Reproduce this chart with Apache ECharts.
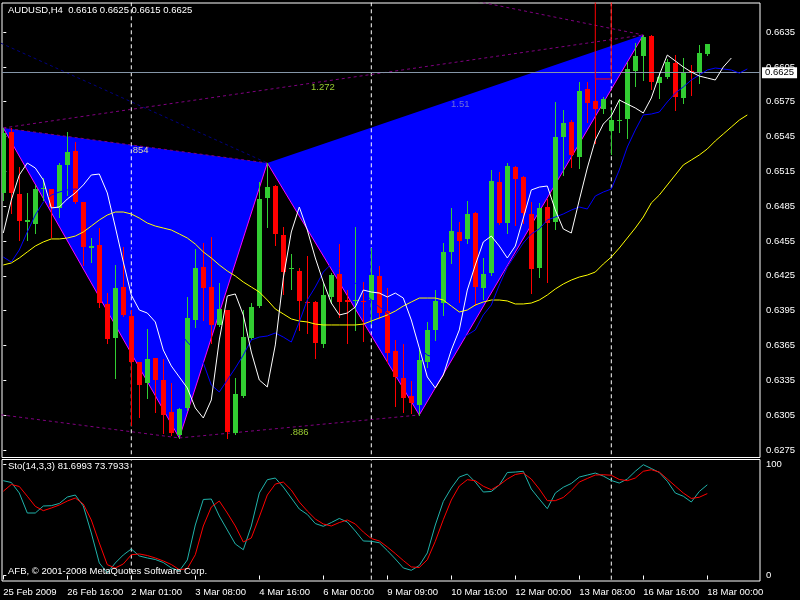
<!DOCTYPE html>
<html><head><meta charset="utf-8">
<script src="https://cdn.jsdelivr.net/npm/echarts@6/dist/echarts.min.js"></script>
<style>html,body{margin:0;padding:0;background:#000;}#c{width:800px;height:600px;}</style>
</head><body><div id="c"></div>
<script>
// ---------- DATA ----------
const headerText = 'AUDUSD,H4  0.6616 0.6625 0.6615 0.6625';
const stochText = 'Sto(14,3,3) 81.6993 73.7933';
const copyrightText = 'AFB, \u00a9 2001-2008 MetaQuotes Software Corp.';

const opens = [0.64964,0.65489,0.64955,0.64718,0.64697,0.65002,0.64998,0.64835,0.65205,0.65325,
0.64886,0.64494,0.64516,0.64008,0.63715,0.64154,0.63904,0.63508,0.63327,0.63543,
0.63353,0.63077,0.62879,0.63112,0.63870,0.64326,0.64154,0.63827,0.63956,0.62897,
0.63215,0.63715,0.63990,0.64921,0.65024,0.64602,0.64305,0.64292,0.64025,0.64025,
0.63663,0.64068,0.64266,0.64038,0.64034,0.64034,0.64042,0.64249,0.63947,0.63603,
0.63370,0.63215,0.63138,0.63508,0.63784,0.64016,0.64456,0.64628,0.64568,0.64792,
0.64145,0.64275,0.65058,0.64705,0.65188,0.65102,0.64783,0.64318,0.64843,0.64714,
0.65446,0.65575,0.65274,0.65860,0.65756,0.65687,0.65498,0.65584,0.65601,0.66015,
0.66144,0.66316,0.65911,0.65963,0.66083,0.65782,0.66015,0.65997,0.6616];
const highs = [0.65524,0.65524,0.65188,0.64964,0.65033,0.65093,0.64998,0.65222,0.65489,0.65403,
0.64886,0.64576,0.64662,0.64102,0.64344,0.64499,0.63956,0.63508,0.63792,0.63543,
0.63534,0.63327,0.63112,0.64068,0.64481,0.64533,0.64585,0.64189,0.63956,0.63370,
0.63956,0.64016,0.65058,0.65222,0.65032,0.64671,0.64438,0.64318,0.64421,0.64034,
0.64189,0.64275,0.64524,0.64128,0.64671,0.64197,0.64490,0.64335,0.64145,0.63698,
0.63663,0.63344,0.63611,0.63853,0.64128,0.64533,0.64835,0.64714,0.64895,0.64800,
0.64404,0.65162,0.65145,0.65222,0.65196,0.65110,0.64886,0.64878,0.64912,0.65748,
0.65679,0.65592,0.65920,0.65920,0.65946,0.65791,0.65679,0.65773,0.66092,0.66256,
0.66325,0.66325,0.65997,0.66118,0.66152,0.66126,0.66066,0.66238,0.6625];
const lows = [0.64903,0.64792,0.64559,0.64559,0.64619,0.64903,0.64585,0.64757,0.64946,0.64877,
0.64344,0.64369,0.63982,0.63672,0.63370,0.63904,0.62965,0.63034,0.63198,0.63077,
0.62897,0.62879,0.62854,0.63095,0.63810,0.63870,0.63672,0.63818,0.62854,0.62888,
0.63206,0.63706,0.63982,0.64671,0.64516,0.64094,0.64137,0.63784,0.63758,0.63543,
0.63637,0.64016,0.63896,0.63672,0.63784,0.63689,0.63844,0.63887,0.63508,0.63129,
0.63077,0.63069,0.63052,0.63465,0.63698,0.63913,0.64361,0.64025,0.64533,0.63999,
0.64051,0.64257,0.64697,0.64619,0.64688,0.64705,0.64102,0.64240,0.64197,0.64654,
0.65119,0.65188,0.65179,0.65575,0.65394,0.65653,0.65300,0.65489,0.65437,0.65885,
0.65937,0.65860,0.65782,0.65954,0.65679,0.65739,0.65808,0.65911,0.6615];
const closes = [0.65481,0.64964,0.64723,0.64727,0.64998,0.65011,0.64843,0.65205,0.65317,0.64886,
0.64499,0.64503,0.64016,0.63706,0.64145,0.63913,0.63508,0.63310,0.63534,0.63353,
0.63052,0.62897,0.63103,0.63887,0.64318,0.64145,0.63827,0.63965,0.62905,0.63232,
0.63723,0.63982,0.64912,0.65015,0.64611,0.64283,0.64314,0.64034,0.64016,0.63672,
0.64085,0.64257,0.64025,0.64029,0.64042,0.64025,0.64257,0.63930,0.63586,0.63379,
0.63198,0.63155,0.63525,0.63784,0.64034,0.64456,0.64636,0.64550,0.64783,0.64154,
0.64266,0.65067,0.64705,0.65196,0.65084,0.64792,0.64309,0.64835,0.64705,0.65446,
0.65567,0.65291,0.65842,0.65739,0.65687,0.65773,0.65592,0.65592,0.66032,0.66144,
0.66307,0.65920,0.65963,0.66092,0.65791,0.66006,0.66006,0.66170,0.6625];

const whiteMA = [0.64619,0.64903,0.65119,0.65222,0.65179,0.65076,0.64835,0.64843,0.64912,0.64964,
0.65033,0.65119,0.65127,0.64964,0.64671,0.64369,0.64085,0.63956,0.63930,0.63853,
0.63611,0.63474,0.63379,0.63284,0.63112,0.63026,0.63181,0.63698,0.64077,0.64094,
0.63913,0.63594,0.63353,0.63293,0.63655,0.64232,0.64628,0.64843,0.64645,0.64404,
0.64197,0.64016,0.63913,0.63930,0.63982,0.64128,0.64111,0.64102,0.64068,0.64102,
0.64059,0.63870,0.63629,0.63379,0.63284,0.63396,0.63611,0.63784,0.64128,0.64344,
0.64542,0.64593,0.64507,0.64404,0.64507,0.64748,0.64990,0.65015,0.65024,0.64817,
0.64654,0.64619,0.64903,0.65179,0.65420,0.65558,0.65627,0.65765,0.65730,0.65696,
0.65653,0.65782,0.65980,0.66152,0.66101,0.66049,0.66006,0.65971,0.65954,0.65937,
0.66049,0.66126];
const blueMA = [0.64412,0.64369,0.64473,0.64628,0.64774,0.64886,0.64946,0.64972,0.64990,0.64998,
0.64990,0.64972,0.64938,0.64860,0.64748,0.64628,0.64473,0.64318,0.64171,0.64059,
0.63956,0.63853,0.63767,0.63680,0.63611,0.63500,0.63310,0.63250,0.63353,0.63456,
0.63568,0.63698,0.63723,0.63732,0.63758,0.63723,0.63680,0.63853,0.64042,0.64154,
0.64283,0.64352,0.64318,0.64257,0.64189,0.64111,0.64042,0.63982,0.63930,0.63870,
0.63784,0.63698,0.63629,0.63568,0.63543,0.63568,0.63629,0.63698,0.63741,0.63784,
0.63913,0.63999,0.64171,0.64326,0.64430,0.64533,0.64611,0.64654,0.64731,0.64757,
0.64783,0.64817,0.64843,0.64826,0.64938,0.64972,0.64998,0.65162,0.65360,0.65506,
0.65636,0.65644,0.65661,0.65748,0.65825,0.65877,0.65937,0.65980,0.66023,0.66040,
0.66032,0.66023,0.65997,0.66032];
const yellowMA = [0.64344,0.64361,0.64404,0.64456,0.64507,0.64542,0.64568,0.64568,0.64576,0.64593,
0.64628,0.64679,0.64731,0.64774,0.64800,0.64800,0.64783,0.64748,0.64705,0.64679,
0.64662,0.64645,0.64611,0.64576,0.64524,0.64456,0.64404,0.64344,0.64292,0.64249,
0.64197,0.64154,0.64111,0.64042,0.63965,0.63922,0.63879,0.63861,0.63853,0.63835,
0.63827,0.63827,0.63827,0.63827,0.63827,0.63835,0.63861,0.63887,0.63913,0.63947,
0.63990,0.64025,0.64059,0.64059,0.64059,0.64042,0.63990,0.63939,0.63956,0.63999,
0.64025,0.64042,0.64042,0.64034,0.64008,0.64008,0.64016,0.64042,0.64085,0.64137,
0.64180,0.64214,0.64240,0.64257,0.64283,0.64352,0.64412,0.64490,0.64576,0.64662,
0.64757,0.64878,0.64946,0.65033,0.65119,0.65205,0.65248,0.65291,0.65343,0.65412,
0.65472,0.65532,0.65592,0.65636];

const stochK = [85.4,83.8,74.3,56.3,56.3,62.6,62.9,64.9,70.7,72.5,
62.6,38.3,11.3,2.3,11.3,18.5,23.9,17.6,15.8,14.4,
11.7,6.8,4.1,14.0,45.5,68.5,68.9,53.6,41.0,28.4,
23.2,44.6,74.3,86.3,87.8,79.7,69.8,59.9,55.0,46.8,
44.3,47.7,51.4,48.2,40.1,31.1,30.8,29.5,22.5,14.9,
6.8,4.7,9.0,20.3,45.5,66.7,78.8,88.7,91.4,84.2,
75.2,75.7,81.5,92.8,93.2,93.9,77.9,68.9,60.2,74.3,
79.5,82.9,88.7,90.5,92.3,89.6,85.6,83.3,86.9,93.9,
99.8,96.4,92.8,84.9,74.3,71.4,66.2,75.7,81.6993];
const stochD = [75.9,82.0,80.2,71.4,62.3,58.4,60.8,63.5,67.1,69.8,
64.4,50.0,29.3,9.7,6.8,10.4,18.7,19.4,18.0,15.8,
13.1,9.9,5.2,6.1,18.7,44.6,61.7,67.1,56.3,44.6,
30.2,33.8,52.7,72.5,82.4,84.2,77.0,66.2,58.1,50.9,
46.4,44.6,47.7,50.0,46.4,39.2,33.3,31.1,25.7,19.8,
13.5,7.7,7.2,14.2,30.8,50.3,68.0,80.6,86.3,85.4,
80.4,77.3,81.5,86.9,91.0,92.3,86.9,77.9,67.4,67.4,
70.3,76.6,84.2,87.4,90.5,90.8,90.3,86.5,85.4,87.8,
93.9,95.3,93.2,86.9,80.6,74.3,69.4,70.5,73.7933];

const priceTicks = [0.6275,0.6305,0.6335,0.6365,0.6395,0.6425,0.6455,0.6485,0.6515,0.6545,0.6575,0.6605,0.6635];
const stochTicks = [0,100];
const timeTickBars = [0,8,16,24,32,40,48,56,64,72,80,88];
const timeTickLabels = ['25 Feb 2009','26 Feb 16:00','2 Mar 01:00','3 Mar 08:00','4 Mar 16:00','6 Mar 00:00','9 Mar 09:00','10 Mar 16:00','12 Mar 00:00','13 Mar 08:00','16 Mar 16:00','18 Mar 00:00'];
const separatorBars = [16,46,76];
const lastPrice = 0.6625;

// harmonic pattern X A B C D
const patternBars = [0,22,33,52,80];
const patternPrices = [0.65524,0.62854,0.65222,0.63052,0.66325];
const fibXB_bars = [0,33], fibXB_prices = [0.65524,0.65222];
const fibAC_bars = [22,52], fibAC_prices = [0.62854,0.63052];
const fibXD_bars = [0,80], fibXD_prices = [0.65524,0.66325];
const oldLeg1_bars = [-1,22], oldLeg1_prices = [0.63060,0.62854];
const oldLeg2_bars = [-1,33], oldLeg2_prices = [0.66276,0.65222];
const oldLeg3_bars = [57,80], oldLeg3_prices = [0.66645,0.66325];
const rectBars = [74,76], rectPrices = [0.65946,0.67000];
const fibLabels = ['.854','.886','1.272','1.51'];
const fibLabelBars = [15.84,35.84,38.46,55.96];
const fibLabelPrices = [0.65334,0.62901,0.65877,0.65726];
const fibLabelColors = ['#d8d8a8','#9acd32','#9acd32','#7070d8'];

// ---------- CHART ----------
const FONT = '"Liberation Sans", Arial, sans-serif';
const xMin = -0.1625, xMax = -0.1625 + 758/8;
const pairs = (bars, vals) => bars.map((b,i)=>[b, vals[i]]);
const idxPairs = vals => vals.map((v,i)=>[i, v]);

const candleData = opens.map((o,i)=>[i, o, highs[i], lows[i], closes[i]]);

function renderCandle(params, api){
  const k = api.value(0), o = api.value(1), h = api.value(2), l = api.value(3), c = api.value(4);
  const pO = api.coord([k,o]), pC = api.coord([k,c]), pH = api.coord([k,h]), pL = api.coord([k,l]);
  const cx = Math.floor(pO[0]);
  const col = c >= o ? '#32cd32' : '#ff0000';
  const top = Math.round(Math.min(pO[1], pC[1])), bot = Math.round(Math.max(pO[1], pC[1]));
  const yh = Math.round(pH[1]), yl = Math.round(pL[1]);
  return {type:'group', children:[
    {type:'rect', shape:{x:cx, y:yh, width:1, height:Math.max(1, yl-yh+1)}, style:{fill:col}},
    {type:'rect', shape:{x:cx-2, y:top, width:5, height:Math.max(1, bot-top)}, style:{fill:col}}
  ]};
}
function renderTri(params, api){
  const pts = [0,1,2].map(j=>api.coord([api.value(2*j), api.value(2*j+1)]));
  return {type:'polygon', shape:{points:pts}, style:{fill:'#0000ff'}};
}
function renderLabel(params, api){
  const p = api.coord([api.value(0), api.value(1)]);
  const i = params.dataIndex;
  return {type:'text', x:p[0], y:p[1], style:{text:fibLabels[i], fill:fibLabelColors[i], font:'9.5px '+FONT, align:'left', verticalAlign:'middle'}};
}

const dashLine = (bars, prices, color, z) => ({
  type:'line', xAxisIndex:0, yAxisIndex:0, data:pairs(bars, prices), symbol:'none', silent:true, z:z||2,
  lineStyle:{color:color, width:1, type:[3,3]}, animation:false, clip:true
});

const series = [];
// pattern fill
series.push({type:'custom', xAxisIndex:0, yAxisIndex:0, renderItem:renderTri, clip:true, silent:true, z:1,
  dimensions:['x1','y1','x2','y2','x3','y3'], encode:{x:[0,2,4], y:[1,3,5]},
  data:[[patternBars[0],patternPrices[0],patternBars[1],patternPrices[1],patternBars[2],patternPrices[2]],
        [patternBars[2],patternPrices[2],patternBars[3],patternPrices[3],patternBars[4],patternPrices[4]]],
  animation:false});
// separators
separatorBars.forEach(b=>{
  series.push({type:'line', xAxisIndex:0, yAxisIndex:0, data:[[b,0.6],[b,0.7]], symbol:'none', silent:true, z:1.5, clip:true,
    lineStyle:{color:'#ffffff', width:1, type:[4,3]}, animation:false});
  series.push({type:'line', xAxisIndex:1, yAxisIndex:1, data:[[b,-10],[b,110]], symbol:'none', silent:true, z:1.5, clip:true,
    lineStyle:{color:'#ffffff', width:1, type:[4,3]}, animation:false});
});
// dashed pattern lines
series.push(dashLine(fibXB_bars, fibXB_prices, '#800080'));
series.push(dashLine(fibAC_bars, fibAC_prices, '#800080'));
series.push(dashLine(fibXD_bars, fibXD_prices, '#800080'));
series.push(dashLine(oldLeg1_bars, oldLeg1_prices, '#800080'));
series.push(dashLine(oldLeg2_bars, oldLeg2_prices, '#000080'));
series.push(dashLine(oldLeg3_bars, oldLeg3_prices, '#800080'));
// pattern edges
series.push({type:'line', xAxisIndex:0, yAxisIndex:0, data:pairs(patternBars, patternPrices), symbol:'none', silent:true, z:3,
  lineStyle:{color:'#ff00ff', width:1}, animation:false});
// candles
series.push({type:'custom', xAxisIndex:0, yAxisIndex:0, renderItem:renderCandle, clip:true, silent:true, z:4,
  dimensions:['k','o','h','l','c'], encode:{x:0, y:[1,2,3,4]}, data:candleData, animation:false});
// rectangle object
series.push({type:'line', xAxisIndex:0, yAxisIndex:0, silent:true, z:5, symbol:'none', clip:true, animation:false,
  data:[[rectBars[0],rectPrices[1]],[rectBars[0],rectPrices[0]],[rectBars[1],rectPrices[0]],[rectBars[1],rectPrices[1]]],
  lineStyle:{color:'#ff0000', width:1}});
// moving averages
series.push({type:'line', xAxisIndex:0, yAxisIndex:0, data:idxPairs(yellowMA), symbol:'none', silent:true, z:5, animation:false,
  lineStyle:{color:'#ffff00', width:1},
  markLine:{silent:true, symbol:'none', animation:false, data:[{yAxis:lastPrice}],
    lineStyle:{color:'#8596a8', width:1, type:'solid'},
    label:{show:true, position:'end', distance:2, formatter:lastPrice.toFixed(4), color:'#000', backgroundColor:'#fff',
      padding:[1,3,0,3], fontSize:9.5, fontFamily:FONT}}});
series.push({type:'line', xAxisIndex:0, yAxisIndex:0, data:idxPairs(blueMA), symbol:'none', silent:true, z:5, animation:false,
  lineStyle:{color:'#0000ff', width:1}});
series.push({type:'line', xAxisIndex:0, yAxisIndex:0, data:idxPairs(whiteMA), symbol:'none', silent:true, z:5, animation:false,
  lineStyle:{color:'#ffffff', width:1}});
// fib labels
series.push({type:'custom', xAxisIndex:0, yAxisIndex:0, renderItem:renderLabel, silent:true, z:6, animation:false,
  dimensions:['x','y'], encode:{x:0,y:1}, data:pairs(fibLabelBars, fibLabelPrices)});
// stochastic
series.push({type:'line', xAxisIndex:1, yAxisIndex:1, data:idxPairs(stochK), symbol:'none', silent:true, z:3, animation:false,
  lineStyle:{color:'#20b2aa', width:1}});
series.push({type:'line', xAxisIndex:1, yAxisIndex:1, data:idxPairs(stochD), symbol:'none', silent:true, z:3, animation:false,
  lineStyle:{color:'#ff0000', width:1}});

const labelStyle = {color:'#fff', fontSize:9.5, fontFamily:FONT};
const option = {
  backgroundColor:'#000',
  animation:false,
  grid:[
    {left:2, top:3, width:758, height:454.5, show:true, borderColor:'#fff', borderWidth:1, backgroundColor:'transparent'},
    {left:2, top:459.5, width:758, height:121.5, show:true, borderColor:'#fff', borderWidth:1, backgroundColor:'transparent'}
  ],
  xAxis:[
    {type:'value', gridIndex:0, min:xMin, max:xMax, axisLine:{show:false}, axisTick:{show:false}, axisLabel:{show:false}, splitLine:{show:false}},
    {type:'value', gridIndex:1, min:xMin, max:xMax, axisLine:{show:false}, splitLine:{show:false},
      axisTick:{show:true, inside:false, length:4, lineStyle:{color:'#fff'}, customValues:timeTickBars},
      axisLabel:Object.assign({show:true, align:'left', margin:6, customValues:timeTickBars,
        formatter:v=>timeTickLabels[timeTickBars.indexOf(Math.round(v))] || ''}, labelStyle)}
  ],
  yAxis:[
    {type:'value', gridIndex:0, position:'right', min:0.626856, max:0.666002, axisLine:{show:false}, splitLine:{show:false},
      axisTick:{show:true, inside:false, length:3, lineStyle:{color:'#fff'}, customValues:priceTicks},
      axisLabel:Object.assign({show:true, margin:6, customValues:priceTicks, formatter:v=>v.toFixed(4)}, labelStyle)},
    {type:'value', gridIndex:1, position:'right', min:-4.955, max:104.5, axisLine:{show:false}, splitLine:{show:false},
      axisTick:{show:true, inside:false, length:3, lineStyle:{color:'#fff'}, customValues:stochTicks},
      axisLabel:Object.assign({show:true, margin:6, padding:[3,0,0,0], customValues:stochTicks, formatter:v=>String(Math.round(v))}, labelStyle)}
  ],
  graphic:[
    {type:'text', left:8, top:5, z:100, style:{text:headerText, fill:'#fff', font:'9.5px '+FONT}},
    {type:'text', left:8, top:461, z:100, style:{text:stochText, fill:'#fff', font:'9.5px '+FONT}},
    {type:'text', left:8, top:566, z:100, style:{text:copyrightText, fill:'#fff', font:'9.5px '+FONT}}
  ],
  series:series
};
const chart = echarts.init(document.getElementById('c'), null, {renderer:'canvas'});
chart.setOption(option);
</script></body></html>
